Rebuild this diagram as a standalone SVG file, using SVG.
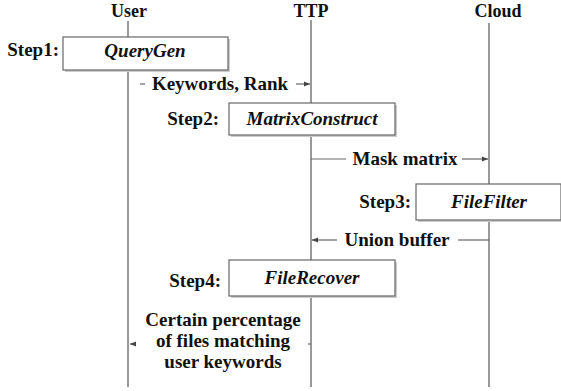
<svg xmlns="http://www.w3.org/2000/svg" width="561" height="391" viewBox="0 0 561 391">
  <style>
    text { font-family: 'Liberation Serif', 'DejaVu Serif', serif; font-weight: bold; font-size: 19px; fill: #111; }
    .title { font-size: 18px; text-anchor: middle; }
    .step { text-anchor: end; }
    .op { font-style: italic; text-anchor: middle; }
    .msg { text-anchor: middle; }
    .life { stroke: #555; stroke-width: 1.2; fill: none; }
    .box { fill: #fff; stroke: #666; stroke-width: 1.2; }
    .shadow { fill: #ccc; }
    .wire { stroke: #666; stroke-width: 1.2; fill: none; }
  </style>
  <defs>
    <marker id="arrow" markerWidth="6" markerHeight="6" refX="6" refY="3" orient="auto" markerUnits="userSpaceOnUse">
      <path d="M0,0.5 L6,3 L0,5.5 Z" fill="#444"/>
    </marker>
  </defs>
  <rect width="561" height="391" fill="#fff"/>

  <!-- lifelines -->
  <g id="lifelines" font-family="Liberation Serif, serif">
    <g id="user">
      <text class="title" x="129" y="17">User</text>
      <line class="life" x1="128" y1="21" x2="128" y2="387"/>
    </g>
    <g id="ttp">
      <text class="title" x="311" y="17">TTP</text>
      <line class="life" x1="311" y1="20" x2="311" y2="387"/>
    </g>
    <g id="cloud">
      <text class="title" x="498" y="17">Cloud</text>
      <line class="life" x1="489" y1="23" x2="489" y2="387"/>
    </g>
  </g>

  <!-- messages between parties -->
  <g id="connectors">
    <line class="wire" x1="140" y1="84" x2="145" y2="84"/>
    <line class="wire" x1="296" y1="84" x2="310" y2="84" marker-end="url(#arrow)"/>
    <text class="msg" x="220" y="90">Keywords, Rank</text>

    <line class="wire" x1="311" y1="159" x2="346" y2="159"/>
    <line class="wire" x1="462" y1="159" x2="488" y2="159" marker-end="url(#arrow)"/>
    <text class="msg" x="405" y="165">Mask matrix</text>

    <line class="wire" x1="489" y1="240" x2="458" y2="240"/>
    <line class="wire" x1="337" y1="240" x2="312" y2="240" marker-end="url(#arrow)"/>
    <text class="msg" x="397" y="246">Union buffer</text>

    <line class="wire" x1="308" y1="344" x2="311" y2="344"/>
    <line class="wire" x1="136" y1="344" x2="130" y2="344" marker-end="url(#arrow)"/>
    <text class="msg" x="223" y="326">Certain percentage</text>
    <text class="msg" x="223" y="347">of files matching</text>
    <text class="msg" x="223" y="368">user keywords</text>
  </g>

  <!-- processing steps -->
  <g id="step1">
    <text class="step" x="59" y="56">Step1:</text>
    <rect class="shadow" x="65" y="39" width="165" height="33"/>
    <rect class="box" x="63" y="37" width="165" height="33"/>
    <text class="op" x="145" y="57">QueryGen</text>
  </g>
  <g id="step2">
    <text class="step" x="219" y="125">Step2:</text>
    <rect class="shadow" x="231" y="105" width="166" height="32"/>
    <rect class="box" x="229" y="103" width="166" height="32"/>
    <text class="op" x="312" y="125">MatrixConstruct</text>
  </g>
  <g id="step3">
    <text class="step" x="411" y="208">Step3:</text>
    <rect class="shadow" x="418" y="186" width="145" height="36"/>
    <rect class="box" x="416" y="184" width="145" height="36"/>
    <text class="op" x="489" y="208">FileFilter</text>
  </g>
  <g id="step4">
    <text class="step" x="221" y="287">Step4:</text>
    <rect class="shadow" x="231" y="262" width="166" height="36"/>
    <rect class="box" x="229" y="260" width="166" height="36"/>
    <text class="op" x="312" y="284">FileRecover</text>
  </g>
</svg>
